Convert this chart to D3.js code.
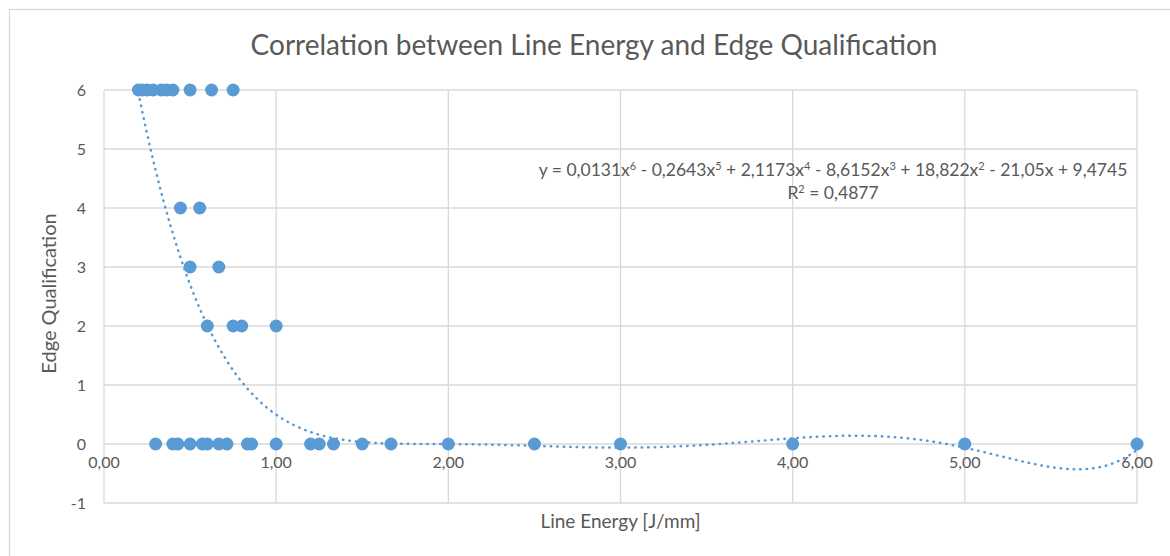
<!DOCTYPE html>
<html>
<head>
<meta charset="utf-8">
<script src="https://cdn.jsdelivr.net/npm/d3@7"></script>
<style>
    body { margin: 0; background: #fff; }
    text { font-family: Lato, "Open Sans", sans-serif; fill: #595959; }
    .grid line { stroke: #d9d9d9; stroke-width: 1.3; }
    .trend { fill: none; stroke: #5b9bd5; stroke-width: 2.5; stroke-linecap: round; stroke-dasharray: 0.5 6; }
    .dot { fill: #5b9bd5; }
</style>
</head>
<body>
<div id="chart"></div>
<script>
// Line energy [J/mm] and edge qualification per sample
var lineEnergy = [
    0.20, 0.222, 0.25, 0.286, 0.333, 0.364, 0.40, 0.50, 0.625, 0.75,
    0.444, 0.556,
    0.50, 0.667,
    0.60, 0.75, 0.80, 1.00,
    0.30, 0.40, 0.429, 0.50, 0.571, 0.60, 0.667, 0.714, 0.833, 0.857,
    1.00, 1.20, 1.25, 1.333, 1.50, 1.667, 2.00, 2.50, 3.00, 4.00, 5.00, 6.00
];
var edgeQualification = [
    6, 6, 6, 6, 6, 6, 6, 6, 6, 6,
    4, 4,
    3, 3,
    2, 2, 2, 2,
    0, 0, 0, 0, 0, 0, 0, 0, 0, 0,
    0, 0, 0, 0, 0, 0, 0, 0, 0, 0, 0, 0
];

// polynomial trend (order 6) as printed on the chart, constant term first
var trendCoefficients = [9.4745, -21.05, 18.822, -8.6152, 2.1173, -0.2643, 0.0131];
var trendR2 = "0,4877";

var xTicks = [0, 1, 2, 3, 4, 5, 6];
var yTicks = [-1, 0, 1, 2, 3, 4, 5, 6];

var chartTitle = "Correlation between Line Energy and Edge Qualification";
var xTitle = "Line Energy [J/mm]";
var yTitle = "Edge Qualification";

var data = lineEnergy.map(function(d, i) { return { x: d, y: edgeQualification[i] }; });

var locale = d3.formatLocale({ decimal: ",", thousands: ".", grouping: [3], currency: ["", ""], minus: "-" });

var W = 1170, H = 556;
var margin = { top: 90, right: 33, bottom: 53, left: 104 };
var width = W - margin.left - margin.right,
    height = H - margin.top - margin.bottom;

var root = d3.select("#chart").append("svg")
    .attr("width", W)
    .attr("height", H);

// outer chart frame
root.append("rect")
    .attr("x", 9.5).attr("y", 9.5)
    .attr("width", W + 20).attr("height", H + 20)
    .attr("fill", "none")
    .attr("stroke", "#d9d9d9")
    .attr("stroke-width", 1.3);

root.append("text")
    .attr("x", 594).attr("y", 55)
    .attr("text-anchor", "middle")
    .style("font-size", "28px")
    .text(chartTitle);

var svg = root.append("g")
    .attr("transform", "translate(" + margin.left + "," + margin.top + ")");

var x = d3.scaleLinear().domain([0, 6]).range([0, width]);
var y = d3.scaleLinear().domain([-1, 6]).range([height, 0]);

// gridlines
var grid = svg.append("g").attr("class", "grid");
grid.selectAll(".gx").data(xTicks).enter().append("line")
    .attr("x1", function(d) { return x(d); }).attr("x2", function(d) { return x(d); })
    .attr("y1", 0).attr("y2", height);
grid.selectAll(".gy").data(yTicks).enter().append("line")
    .attr("y1", function(d) { return y(d); }).attr("y2", function(d) { return y(d); })
    .attr("x1", 0).attr("x2", width);

// tick labels (x labels sit under the y = 0 line)
svg.selectAll(".xlab").data(xTicks).enter().append("text")
    .attr("x", function(d) { return x(d); })
    .attr("y", y(0) + 24)
    .attr("text-anchor", "middle")
    .style("font-size", "16px")
    .text(locale.format(".2f"));

svg.selectAll(".ylab").data(yTicks).enter().append("text")
    .attr("x", -18)
    .attr("y", function(d) { return y(d) + 6; })
    .attr("text-anchor", "end")
    .style("font-size", "16px")
    .text(locale.format("d"));

// axis titles
svg.append("text")
    .attr("x", x(3))
    .attr("y", height + 25)
    .attr("text-anchor", "middle")
    .style("font-size", "19px")
    .text(xTitle);

svg.append("text")
    .attr("transform", "translate(-48," + (height / 2 - 3) + ") rotate(-90)")
    .attr("text-anchor", "middle")
    .style("font-size", "20px")
    .text(yTitle);

// trendline
var poly = function(v) {
    return trendCoefficients.reduce(function(s, c, k) { return s + c * Math.pow(v, k); }, 0);
};
var xr = d3.extent(lineEnergy);
var trendPts = d3.range(0, 401).map(function(i) {
    var v = xr[0] + (xr[1] - xr[0]) * i / 400;
    return [v, poly(v)];
});
var line = d3.line()
    .x(function(d) { return x(d[0]); })
    .y(function(d) { return y(d[1]); });
svg.append("path")
    .datum(trendPts)
    .attr("class", "trend")
    .attr("d", line);

// points
svg.selectAll(".dot").data(data).enter().append("circle")
    .attr("class", "dot")
    .attr("cx", function(d) { return x(d.x); })
    .attr("cy", function(d) { return y(d.y); })
    .attr("r", 6.5);

// trendline equation
var eqParts = [["y = 0,0131x", "6"], [" - 0,2643x", "5"], [" + 2,1173x", "4"], [" - 8,6152x", "3"],
    [" + 18,822x", "2"], [" - 21,05x + 9,4745", null]];
var eq = svg.append("text")
    .attr("x", 729).attr("y", 86)
    .attr("text-anchor", "middle")
    .style("font-size", "17.5px");
eqParts.forEach(function(p) {
    eq.append("tspan").attr("dy", p === eqParts[0] ? 0 : 6).text(p[0]);
    if (p[1]) eq.append("tspan").attr("dy", -6).style("font-size", "11px").text(p[1]);
});
var r2 = svg.append("text")
    .attr("x", 729).attr("y", 109)
    .attr("text-anchor", "middle")
    .style("font-size", "17.5px");
r2.append("tspan").text("R");
r2.append("tspan").attr("dy", -6).style("font-size", "11px").text("2");
r2.append("tspan").attr("dy", 6).text(" = " + trendR2);
</script>
</body>
</html>
